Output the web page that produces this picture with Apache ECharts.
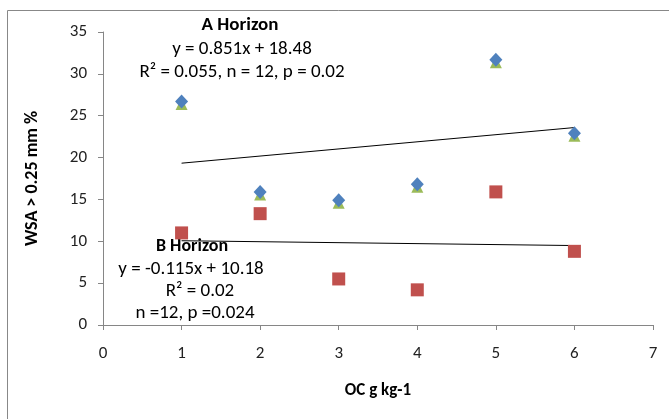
<!DOCTYPE html>
<html><head><meta charset="utf-8">
<script src="https://cdn.jsdelivr.net/npm/echarts@6/dist/echarts.min.js"></script>
<style>html,body{margin:0;padding:0;background:#fff}#c{width:669px;height:419px}</style>
</head><body><div id="c"></div>
<script>
const xValues = [1, 2, 3, 4, 5, 6];
const aDiamond = [26.7, 15.9, 14.9, 16.8, 31.7, 22.9];
const aTriangle = [26.4, 15.6, 14.6, 16.5, 31.4, 22.6];
const bSquare = [11.0, 13.3, 5.5, 4.2, 15.9, 8.8];
const aFit = {slope: 0.851, intercept: 18.48, from: 1, to: 6};
const bFit = {slope: -0.115, intercept: 10.18, from: 1, to: 6};
const xTicks = [0, 1, 2, 3, 4, 5, 6, 7];
const yTicks = [0, 5, 10, 15, 20, 25, 30, 35];
const aText = ['A Horizon', 'y = 0.851x + 18.48', 'R² = 0.055, n = 12, p = 0.02'];
const bText = ['B Horizon', 'y = -0.115x + 10.18', 'R² = 0.02', 'n =12, p =0.024'];

const FONT = "Carlito, 'Liberation Sans Narrow', 'Open Sans', sans-serif";
const pair = (xs, ys) => xs.map((x, i) => [x, ys[i]]);
const fit = f => [[f.from, f.slope * f.from + f.intercept], [f.to, f.slope * f.to + f.intercept]];

const chart = echarts.init(document.getElementById('c'));
const graphics = [
  {type: 'rect', shape: {x: 7.5, y: 10.5, width: 700, height: 500}, style: {fill: 'none', stroke: '#888', lineWidth: 1}},
];
function addCentered(t, cx, cy, bold, size) {
  graphics.push({type: 'text', x: cx, y: cy, style: {text: t, textAlign: 'center', textVerticalAlign: 'middle', fill: '#000', font: (bold ? 'bold ' : '') + size + 'px ' + FONT}});
}
addCentered(aText[0], 240, 25, true, 19);
addCentered(aText[1], 242, 49, false, 19);
addCentered(aText[2], 242, 72, false, 19);
addCentered(bText[0], 192, 246, true, 18);
addCentered(bText[1], 191, 269, false, 19);
addCentered(bText[2], 200, 291, false, 19);
addCentered(bText[3], 195, 313, false, 19);

chart.setOption({
  animation: false,
  grid: {left: 103, right: 16, top: 32, bottom: 94},
  xAxis: {type: 'value', min: 0, max: 7, interval: 1,
    axisLine: {lineStyle: {color: '#868686'}}, axisTick: {show: true, length: 5, lineStyle: {color: '#868686'}},
    splitLine: {show: false},
    axisLabel: {color: '#222', fontSize: 17, fontFamily: FONT, margin: 20},
    name: 'OC g kg-1', nameLocation: 'middle', nameGap: 57,
    nameTextStyle: {fontWeight: 'bold', fontSize: 17, fontFamily: FONT, color: '#000'}},
  yAxis: {type: 'value', min: 0, max: 35, interval: 5,
    axisLine: {show: true, lineStyle: {color: '#868686'}}, axisTick: {show: true, length: 5, lineStyle: {color: '#868686'}},
    splitLine: {show: false},
    axisLabel: {color: '#222', fontSize: 17, fontFamily: FONT, margin: 16},
    name: 'WSA > 0.25 mm %', nameLocation: 'middle', nameGap: 62,
    nameTextStyle: {fontWeight: 'bold', fontSize: 18, fontFamily: FONT, color: '#000'}},
  graphic: graphics,
  series: [
    {type: 'line', data: fit(aFit), symbol: 'none', lineStyle: {color: '#000', width: 1}, z: 1},
    {type: 'line', data: fit(bFit), symbol: 'none', lineStyle: {color: '#000', width: 1}, z: 1},
    {type: 'scatter', data: pair(xValues, aTriangle), symbol: 'triangle', symbolSize: 12, itemStyle: {color: '#9BBB59', opacity: 1}, z: 2},
    {type: 'scatter', data: pair(xValues, aDiamond), symbol: 'diamond', symbolSize: [13, 14], itemStyle: {color: '#4F81BD', opacity: 1}, z: 3},
    {type: 'scatter', data: pair(xValues, bSquare), symbol: 'rect', symbolSize: 13, itemStyle: {color: '#C0504D', opacity: 1}, z: 3}
  ]
});
</script></body></html>
